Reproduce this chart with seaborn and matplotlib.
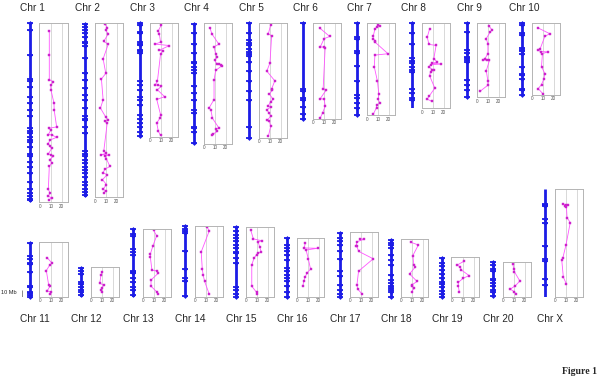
import matplotlib
matplotlib.use('Agg')
import matplotlib.pyplot as plt
import seaborn as sns

# chromosome names and lengths (Mb)
chr_names = ['Chr 1', 'Chr 2', 'Chr 3', 'Chr 4', 'Chr 5', 'Chr 6', 'Chr 7', 'Chr 8', 'Chr 9', 'Chr 10',
             'Chr 11', 'Chr 12', 'Chr 13', 'Chr 14', 'Chr 15', 'Chr 16', 'Chr 17', 'Chr 18', 'Chr 19',
             'Chr 20', 'Chr X']
chr_lengths = [256, 249, 163, 173, 164, 137, 132, 122, 106, 103,
               78, 42, 97, 101, 100, 84, 92, 82, 56, 50, 153]

# marker positions along each chromosome (Mb)
chr1_markers = [1, 10, 46, 80, 84, 92, 106, 115, 125, 134, 150, 154, 158, 163, 167, 170, 177, 187, 190, 199,
                206, 215, 227, 238, 243, 248, 252, 254]
chr2_markers = [2, 6, 10, 15, 20, 27, 29, 34, 51, 72, 82, 94, 103, 110, 122, 134, 137, 139, 149, 158, 184,
                187, 191, 196, 201, 206, 210, 215, 220, 227, 232, 237, 242, 246]
chr3_markers = [1, 3, 13, 15, 27, 30, 32, 39, 41, 44, 84, 89, 96, 106, 110, 117, 132, 137, 144, 149, 156, 162]
chr4_markers = [2, 15, 30, 44, 56, 58, 63, 68, 72, 91, 101, 110, 125, 129, 149, 151, 156, 172]
chr5_markers = [1, 15, 25, 29, 32, 37, 42, 44, 48, 56, 69, 83, 97, 110, 149, 164]
chr6_markers = [1, 95, 97, 108, 110, 120, 130, 137]
chr7_markers = [1, 21, 24, 41, 44, 62, 84, 103, 108, 115, 122, 132]
chr8_markers = [1, 15, 30, 51, 54, 58, 63, 68, 70, 94, 101, 108, 110]
chr9_markers = [1, 13, 39, 44, 49, 51, 53, 56, 82, 89, 96, 106]
chr10_markers = [1, 3, 15, 18, 36, 39, 41, 44, 63, 73, 75, 81, 94, 96, 103]
chr11_markers = [1, 20, 24, 30, 32, 43, 63, 65, 71, 73, 76, 78]
chr12_markers = [1, 5, 10, 21, 24, 29, 33, 36, 40]
chr13_markers = [1, 7, 10, 29, 33, 38, 60, 62, 64, 71, 76, 83, 88, 95]
chr14_markers = [1, 4, 7, 10, 36, 62, 74, 79, 100]
chr15_markers = [1, 7, 12, 17, 21, 26, 31, 36, 38, 45, 52, 86, 90, 97, 100]
chr16_markers = [1, 10, 15, 19, 24, 32, 43, 48, 53, 58, 62, 69, 77, 84]
chr17_markers = [1, 8, 13, 19, 27, 38, 56, 62, 76, 82, 89, 92]
chr18_markers = [1, 5, 8, 13, 23, 30, 37, 51, 59, 63, 67, 70, 73, 76, 82]
chr19_markers = [1, 8, 12, 18, 24, 30, 35, 38, 42, 48, 53, 56]
chr20_markers = [1, 5, 10, 13, 25, 27, 30, 35, 40, 44, 49]
chrX_markers = [21, 22, 24, 42, 48, 81, 100, 102, 128, 137]

# profile along each chromosome: position (Mb) and value
chr1_pos = [11, 46, 81, 84, 89, 96, 115, 125, 149, 151, 154, 160, 160.5, 164, 168, 173, 177, 180, 188, 189,
            191, 196, 201, 206, 239, 244, 249, 251, 254]
chr1_val = [8.4, 8.4, 8.4, 12.2, 9.7, 10, 12.8, 13, 15.3, 8.1, 9.7, 7.5, 10.6, 15.3, 9, 7.5, 9, 10.6, 7.5, 9.7,
            12.2, 9, 10.6, 8.4, 7.5, 9, 7.5, 10.6, 8.4]
chr2_pos = [1, 6, 10, 15, 26, 30, 51, 72, 80, 110, 122, 135, 139, 141, 144, 184, 187, 189, 189.5, 191, 195,
            206, 210, 215, 218, 225, 232, 239, 241, 244]
chr2_val = [8.9, 11.1, 9.8, 12.1, 7.9, 12.1, 7.3, 9.8, 5.7, 7.3, 4.8, 9.8, 12.1, 8.9, 11.1, 7.9, 10.4, 5.7, 13,
            8.9, 10.4, 13.7, 8.9, 7.3, 11.1, 6.7, 10.4, 7.3, 9.8, 7.9]
chr3_pos = [2, 10.5, 15, 27, 30, 32, 39, 39.5, 44, 84, 89, 89.5, 91, 96, 106, 110, 132, 137, 144, 156, 162]
chr3_val = [10.4, 7.5, 8.4, 9.6, 4.5, 17.9, 8.4, 11.9, 9.6, 6.6, 4.5, 7.5, 10.4, 6.6, 13.4, 6, 9.6, 9, 6, 7.5, 9.6]
chr4_pos = [6, 15, 30, 34, 44, 49, 53, 58, 58.5, 60, 61, 68, 82, 110, 122, 125, 137, 151, 153, 156, 160, 162]
chr4_val = [5.2, 7, 13.6, 9.1, 10.6, 12.1, 9.7, 11.5, 13.6, 15.2, 16.7, 10.6, 9.1, 9.1, 4.5, 6.1, 7.6, 13.6,
            10.6, 12.1, 8.2, 7]
chr5_pos = [2, 15, 18, 57, 69, 83, 95, 97, 102, 110, 113, 119, 121, 125, 130, 134, 140, 141, 149, 163]
chr5_val = [10.6, 8.5, 11.5, 10, 7, 14.5, 11.5, 12.1, 9.4, 13, 10.6, 8.5, 10.6, 7, 9.4, 10.6, 7.6, 9.4, 10.6, 8.5]
chr6_pos = [7, 19, 22, 34, 34.5, 35, 95, 96, 109, 110, 120, 130, 137]
chr6_val = [6.2, 15.4, 10.2, 6.5, 10.2, 11.1, 9.2, 12.3, 6.5, 10.2, 11.1, 8.6, 6.5]
chr7_pos = [2, 3.3, 5.7, 8, 19, 22, 25, 27, 44, 46, 63, 84, 103, 110, 116, 118, 122, 132]
chr7_val = [10.2, 11.7, 8.6, 7.1, 5.5, 5.5, 7.1, 7.1, 19.4, 7.1, 6.5, 9.5, 10.8, 10.2, 11.7, 8.6, 8.6, 5.5]
chr8_pos = [8, 20, 30.5, 32, 51, 56, 58, 59, 60, 63, 67, 68, 70, 76, 94, 106, 110, 113]
chr8_val = [6.8, 4.6, 6.2, 12.9, 10.8, 13.8, 9.2, 17.8, 7.7, 6.2, 9.2, 10.8, 7.7, 6.8, 11.7, 6.2, 4.6, 8.6]
chr9_pos = [3.3, 9.5, 13, 22, 30, 44, 52, 53, 53.5, 54, 69, 84, 90, 99]
chr9_val = [10.7, 13.7, 11.9, 8.4, 9.9, 9.9, 6.9, 5.4, 9, 11.3, 8.4, 9.9, 9.9, 2.4]
chr10_pos = [6.7, 15, 19, 38, 39, 41, 41.5, 44, 63, 73, 81, 89, 95, 103]
chr10_val = [5.5, 16.3, 11.7, 7.1, 5.5, 7.7, 14.8, 9.5, 8.6, 11.7, 10.8, 8.6, 5.5, 10.2]
chr11_pos = [22, 30, 33, 41, 62, 63, 71, 72, 76]
chr11_val = [6.3, 10.9, 8.8, 5.6, 7.8, 9.4, 6.3, 10, 8.8]
chr12_pos = [7, 10.5, 23, 26, 31, 34, 36]
chr12_val = [10, 9.1, 7.9, 11.5, 10, 9.1, 10]
chr13_pos = [1.4, 9.5, 24, 36, 41, 60, 60.5, 64, 74, 83, 92, 95]
chr13_val = [9.6, 12.5, 9, 6.6, 6.6, 8.1, 13.1, 14, 7.2, 7.2, 13.1, 14]
chr14_pos = [1, 7, 37, 62, 71, 80, 98]
chr14_val = [11.3, 12.9, 5.5, 6.5, 7.4, 8.7, 12.9]
chr15_pos = [4.8, 17, 20, 21, 29, 36, 38, 40, 45, 55, 86, 95, 98]
chr15_val = [4.2, 6.6, 14.9, 11, 12.5, 14, 11, 9.6, 7.2, 5.1, 5.1, 9.6, 10.1]
chr16_pos = [7, 14, 14.5, 17, 30, 45, 50, 56, 63, 69]
chr16_val = [7.4, 6.5, 19.1, 8.2, 10.3, 12.4, 9.4, 7.4, 5.9, 5.3]
chr17_pos = [8.6, 9.5, 13, 19, 20, 27, 38, 56, 76, 82, 89]
chr17_val = [9.2, 12.9, 6.2, 5.5, 6.2, 7.7, 21.5, 7.7, 6.2, 6.8, 10.8]
chr18_pos = [3.8, 7.6, 23, 37, 40, 50, 61, 66, 68, 70, 76]
chr18_val = [9.2, 16, 10.8, 11.7, 12.9, 7.7, 14.8, 9.8, 9.8, 12.3, 9.8]
chr19_pos = [4.7, 10.4, 13.3, 17.6, 26, 30, 36, 42, 50]
chr19_val = [11.1, 4.6, 7.4, 8.3, 15.7, 10.2, 5.6, 5.6, 6.5]
chr20_pos = [3, 9.5, 14, 28, 35, 40, 44, 48]
chr20_val = [9, 9.7, 10.3, 15.5, 11.3, 6.5, 10.3, 12.3]
chrX_pos = [20, 21.4, 21.6, 23, 24, 40, 47, 80, 99, 101, 126, 136]
chrX_val = [7.5, 9.9, 11.9, 9, 10.4, 11, 14, 9.9, 6.9, 6, 7.5, 10.4]

box_ticks = [0, 10, 20]

all_markers = [chr1_markers, chr2_markers, chr3_markers, chr4_markers, chr5_markers, chr6_markers,
               chr7_markers, chr8_markers, chr9_markers, chr10_markers, chr11_markers, chr12_markers,
               chr13_markers, chr14_markers, chr15_markers, chr16_markers, chr17_markers, chr18_markers,
               chr19_markers, chr20_markers, chrX_markers]
all_pos = [chr1_pos, chr2_pos, chr3_pos, chr4_pos, chr5_pos, chr6_pos, chr7_pos, chr8_pos, chr9_pos,
           chr10_pos, chr11_pos, chr12_pos, chr13_pos, chr14_pos, chr15_pos, chr16_pos, chr17_pos,
           chr18_pos, chr19_pos, chr20_pos, chrX_pos]
all_val = [chr1_val, chr2_val, chr3_val, chr4_val, chr5_val, chr6_val, chr7_val, chr8_val, chr9_val,
           chr10_val, chr11_val, chr12_val, chr13_val, chr14_val, chr15_val, chr16_val, chr17_val,
           chr18_val, chr19_val, chr20_val, chrX_val]

# layout (pixels)
W, H = 600, 379
PX_PER_MB = 0.7
chrom_x = [30, 85, 140, 194, 249, 303, 357, 412, 467, 522,
           30, 81, 133, 185, 236, 287, 340, 391, 442, 493, 545]
ROW1_TOP = 22.7
ROW2_BOTTOM = 296.5
BLUE = '#1c1ce6'
PINK_LINE = '#ff55ff'
PINK_MARK = '#cc22cc'

sns.set_style('white')
plt.rcParams['font.family'] = ['Liberation Sans', 'DejaVu Sans']

fig = plt.figure(figsize=(W / 100, H / 100), dpi=100)


def px_axes(x0, top, w, h):
    return fig.add_axes([x0 / W, 1 - (top + h) / H, w / W, h / H])


for i, name in enumerate(chr_names):
    length = chr_lengths[i]
    h = length * PX_PER_MB
    cx = chrom_x[i]
    top = ROW1_TOP if i < 10 else ROW2_BOTTOM - h

    # chromosome with markers
    ax_c = px_axes(cx - 6, top, 12, h)
    ax_c.vlines(0, 0, length, color=BLUE, lw=2.0)
    xs = [0] * len(all_markers[i])
    sns.scatterplot(x=xs, y=all_markers[i], ax=ax_c, marker='_', s=22, linewidth=1.3,
                    color=BLUE, clip_on=False, legend=False)
    sns.scatterplot(x=xs, y=all_markers[i], ax=ax_c, marker='D', s=6, linewidth=0,
                    color=BLUE, clip_on=False, legend=False)
    ax_c.set_xlim(-1, 1)
    ax_c.set_ylim(length, 0)
    ax_c.axis('off')

    # profile box
    ax_b = px_axes(cx + 9.5, top, 28, h)
    for g in [10, 20]:
        ax_b.axvline(g, color='#d2d2d2', lw=0.6, zorder=0)
    sns.lineplot(x=all_val[i], y=all_pos[i], ax=ax_b, orient='y', estimator=None,
                 color=PINK_LINE, lw=0.6, marker='s', markersize=1.5, markeredgewidth=0.3,
                 markerfacecolor=PINK_MARK, markeredgecolor=PINK_MARK)
    ax_b.set_xlim(-0.8, 25.5)
    ax_b.set_ylim(length + 1, -1)
    ax_b.set_xticks(box_ticks)
    ax_b.set_xticklabels([str(t) for t in box_ticks])
    ax_b.set_yticks([])
    ax_b.set_xlabel('')
    ax_b.set_ylabel('')
    ax_b.tick_params(axis='x', length=0, pad=1.2, labelsize=3.3, labelcolor='#555555')
    for sp in ax_b.spines.values():
        sp.set_color('#b4b4b4')
        sp.set_linewidth(0.7)

    # label
    if i < 10:
        fig.text((cx + 2) / W, 1 - 8 / H, name, ha='center', va='center', fontsize=7.3)
    else:
        fig.text((cx + 5) / W, 1 - 319 / H, name, ha='center', va='center', fontsize=7.3)

# 10 Mb scale bar
ax_s = px_axes(17, ROW2_BOTTOM - 10 * PX_PER_MB, 10, 10 * PX_PER_MB)
ax_s.vlines(0, 0, 10, color='#777777', lw=0.6)
ax_s.set_xlim(-1, 1)
ax_s.set_ylim(10, 0)
ax_s.axis('off')
fig.text(1 / W, 1 - 293 / H, '10 Mb', ha='left', va='center', fontsize=4)

fig.text(597 / W, 1 - 372 / H, 'Figure 1', ha='right', va='center', fontsize=7,
         fontweight='bold', family=['Liberation Serif', 'DejaVu Serif'])

fig.savefig('out.png', dpi=100)
